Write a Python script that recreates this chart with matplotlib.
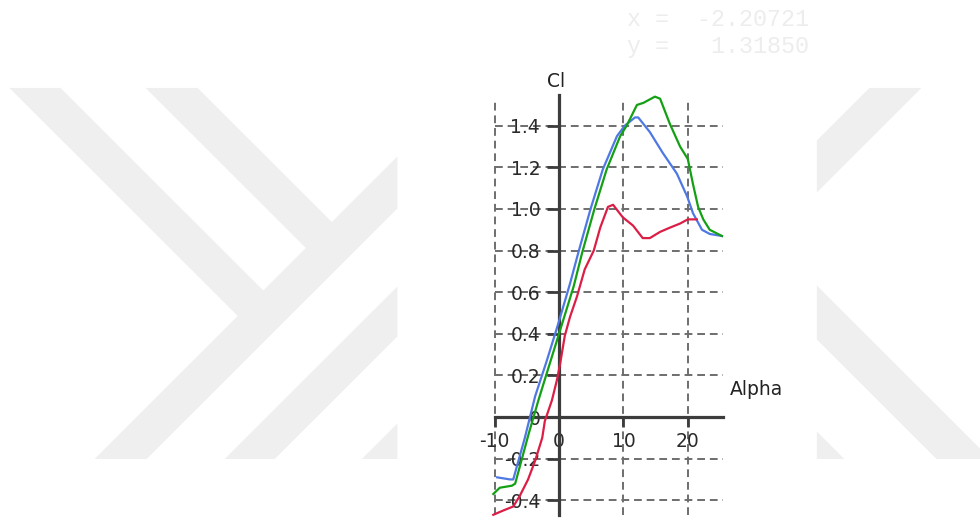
import numpy as np
import matplotlib
matplotlib.use("Agg")
import matplotlib.pyplot as plt

# Cl vs Alpha polars
alpha_blue = [-9.6, -7.6, -7.1, -5.3, -3.7, -1.9, -0.1, 1.7, 3.0, 4.9, 6.8, 9.0,
              10.2, 11.8, 12.3, 14.1, 16.1, 18.3, 19.9, 20.8, 22.2, 23.4, 25.3]
cl_blue = [-0.29, -0.30, -0.30, -0.10, 0.10, 0.27, 0.45, 0.64, 0.79, 1.00, 1.19, 1.35,
           1.40, 1.44, 1.44, 1.37, 1.27, 1.17, 1.06, 0.98, 0.90, 0.88, 0.87]

alpha_green = [-10.2, -9.2, -7.3, -6.8, -4.7, -3.2, -1.4, 0.4, 2.3, 3.6, 5.5, 7.4, 9.5,
               10.5, 12.1, 13.1, 14.9, 15.7, 17.2, 18.8, 20.0, 20.8, 21.6, 22.4, 23.4, 25.3]
cl_green = [-0.37, -0.34, -0.33, -0.32, -0.08, 0.08, 0.26, 0.44, 0.63, 0.79, 1.00, 1.19, 1.35,
            1.40, 1.50, 1.51, 1.54, 1.53, 1.41, 1.30, 1.24, 1.12, 1.01, 0.95, 0.90, 0.87]

alpha_red = [-10.2, -8.7, -7.1, -6.1, -4.8, -3.7, -2.6, -2.2, -1.1, -0.3, 0.2, 0.9, 1.7, 2.8,
             4.0, 5.4, 6.4, 7.6, 8.4, 9.9, 11.5, 13.0, 14.1, 15.7, 17.2, 18.8, 20.0, 21.4]
cl_red = [-0.47, -0.45, -0.43, -0.38, -0.30, -0.21, -0.10, -0.02, 0.08, 0.18, 0.26, 0.39, 0.48,
          0.58, 0.71, 0.80, 0.91, 1.01, 1.02, 0.96, 0.92, 0.86, 0.86, 0.89, 0.91, 0.93, 0.95, 0.95]

x_ticks = [-10, 0, 10, 20]
x_labels = ["-10", "0", "10", "20"]
y_ticks = [-0.4, -0.2, 0.0, 0.2, 0.4, 0.6, 0.8, 1.0, 1.2, 1.4]
y_labels = ["-0.4", "-0.2", "0", "0.2", "0.4", "0.6", "0.8", "1.0", "1.2", "1.4"]

cursor_text = "x =  -2.20721\ny =   1.31850"

W, H = 980, 522
fig = plt.figure(figsize=(W / 100, H / 100), dpi=100)
fig.patch.set_facecolor("white")

# background logo, built as a pixel mask
bg = fig.add_axes([0, 0, 1, 1], zorder=-5)
yy, xx = np.mgrid[0:H, 0:W] + 0.5
u = yy - xx
v = xx + yy
left = (u >= 28) & (u <= 78) & (v <= 605)
left |= (v >= 554) & (v <= 605)
left |= (u >= -109) & (u <= -58) & (v <= 554)
left |= (v >= 684) & (v <= 733)
left |= (v >= 821) & (v <= 871)
left &= xx < 397
right = ((v >= 957) & (v <= 1008)) | ((u >= -530) & (u <= -477)) | ((u >= -384) & (u <= -334))
right &= xx > 816
mask = (left | right) & (yy >= 88) & (yy <= 459)
img = np.where(mask, 239, 255).astype(np.uint8)
bg.imshow(np.dstack([img] * 3), extent=[0, W, H, 0], interpolation="bilinear")
bg.set_xlim(0, W)
bg.set_ylim(H, 0)
bg.axis("off")

fig.text(627 / W, 1 - 33 / H, cursor_text, family="Liberation Mono", fontsize=16.8,
         color="#ededed", ha="left", va="center", linespacing=1.25)

# main polar plot
L, R, T, B = 488, 732, 70, 520
ax = fig.add_axes([L / W, (H - B) / H, (R - L) / W, (B - T) / H])
ax.set_facecolor("none")
ax.set_xlim(-11.02, 26.86)
ax.set_ylim(-0.495, 1.668)

grid_kw = dict(colors="#6e6e6e", linewidth=1.4, linestyles=(0, (4, 2.5)), zorder=1)
ax.hlines([t for t in y_ticks if t != 0], -10, 25.5, **grid_kw)
ax.vlines([t for t in x_ticks if t != 0], -0.47, 1.515, **grid_kw)

for s in ["top", "right"]:
    ax.spines[s].set_visible(False)
ax.spines["left"].set_position(("data", 0))
ax.spines["bottom"].set_position(("data", 0))
ax.spines["left"].set_bounds(-0.47, 1.55)
ax.spines["bottom"].set_bounds(-10, 25.5)
for s in ["left", "bottom"]:
    ax.spines[s].set_color("#3c3c3c")
    ax.spines[s].set_linewidth(2.3)

ax.set_xticks(x_ticks)
ax.set_xticklabels(x_labels)
ax.set_yticks(y_ticks)
ax.set_yticklabels(y_labels)
ax.tick_params(axis="x", direction="out", length=7, width=2, color="#3c3c3c",
               labelsize=13.5, labelcolor="#2a2a2a", pad=4)
ax.tick_params(axis="y", direction="out", length=8.5, width=2, color="#3c3c3c",
               labelsize=13.5, labelcolor="#2a2a2a", pad=5)

ax.plot(alpha_blue, cl_blue, color="#4f78e4", lw=1.6, zorder=3)
ax.plot(alpha_red, cl_red, color="#dc1e46", lw=1.6, zorder=3)
ax.plot(alpha_green, cl_green, color="#14a014", lw=1.6, zorder=3)

ax.text(-0.45, 1.613, "Cl", fontsize=13.5, color="#222222", ha="center", va="center")
ax.text(26.5, 0.13, "Alpha", fontsize=13.5, color="#222222", ha="left", va="center",
        clip_on=False)

fig.savefig("out.png", dpi=100)
